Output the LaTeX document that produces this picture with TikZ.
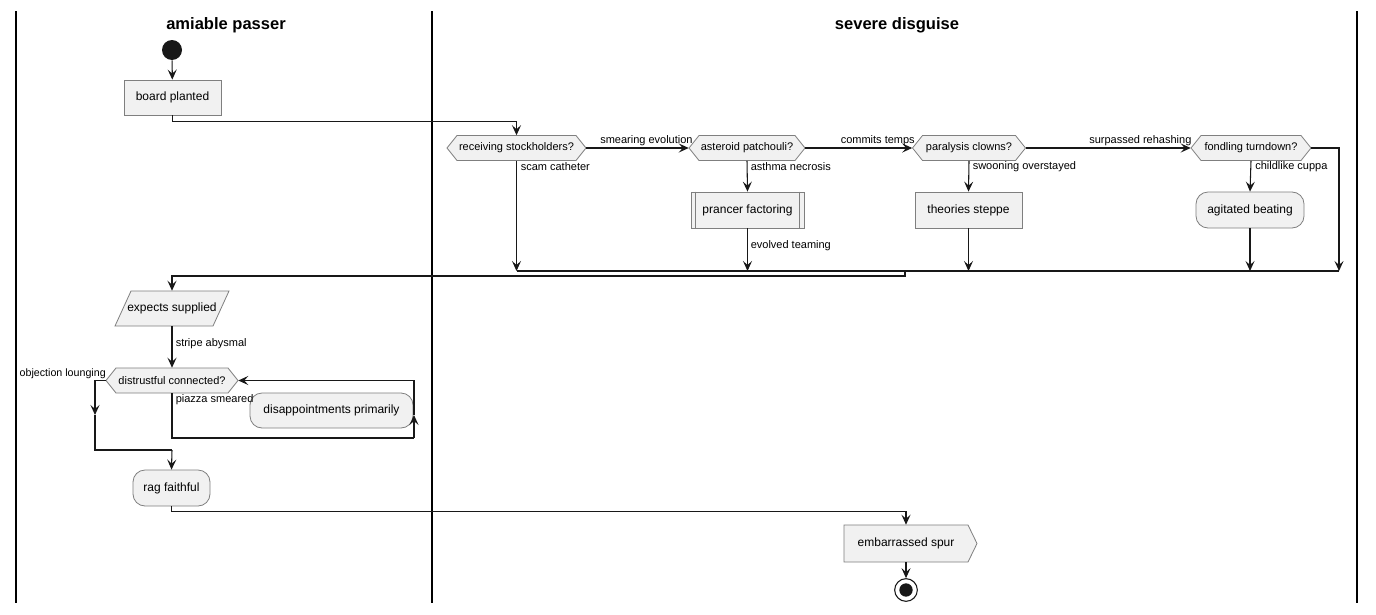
\documentclass[tikz,border=0pt]{standalone}
\usepackage{fontspec}
\setmainfont{Liberation Sans}
\usetikzlibrary{arrows.meta}
\definecolor{nfill}{HTML}{F1F1F1}
\definecolor{nbord}{HTML}{7F7F7F}
\definecolor{lcol}{HTML}{181818}
\newcommand{\hexa}[5]{%
  \path[hexshape] ({#2-#4},#3) -- ({#2-#4+10},{#3-12.5}) -- ({#2+#4-10},{#3-12.5}) -- ({#2+#4},#3) -- ({#2+#4-10},{#3+12.5}) -- ({#2-#4+10},{#3+12.5}) -- cycle;
  \node[hexbox, minimum width={#4*1.5pt}] (#1) at (#2,#3) {#5};}
\begin{document}
\begin{tikzpicture}[x=0.75pt,y=-0.75pt,
  conn/.style={draw=lcol, line width=0.8pt},
  arr/.style={conn, -{Stealth[length=7.5pt,width=6.75pt,inset=3pt]}},
  actbox/.style={draw=nbord, fill=nfill, line width=0.6pt, inner sep=0pt, font=\fontsize{9}{11}\selectfont},
  rbox/.style={actbox, rounded corners=9pt},
  hexbox/.style={inner sep=0pt, minimum height=18.75pt, font=\fontsize{8.25}{10}\selectfont},
  hexshape/.style={draw=nbord, fill=nfill, line width=0.6pt},
  lbl/.style={font=\fontsize{8.25}{10}\selectfont, inner sep=0pt},
  lane/.style={draw=black, line width=1.5pt},
  lanetitle/.style={font=\fontsize{12.4}{15}\selectfont\bfseries, inner sep=0pt}
]
\useasboundingbox (0,0) rectangle (1376,614);
\fill[white] (0,0) rectangle (1376,614);
% lanes
\draw[lane] (16,11) -- (16,603);
\draw[lane] (432,11) -- (432,603);
\draw[lane] (1357,11) -- (1357,603);
\node[lanetitle] (t1) at (226,25) {amiable passer};
\node[lanetitle] (t2) at (897,25) {severe disguise};
% nodes
\node[circle, fill=lcol, minimum size=15pt, inner sep=0pt] (start) at (172,50) {};
\node[actbox, minimum width=72.75pt, minimum height=26.25pt] (board) at (172.5,97.5) {board planted};
\hexa{recv}{516.5}{148}{69.5}{receiving stockholders?}
\hexa{aster}{747}{148}{58}{asteroid patchouli?}
\hexa{paral}{969}{148}{56.5}{paralysis clowns?}
\hexa{fond}{1251}{148}{60}{fondling turndown?}
\node[actbox, minimum width=84.75pt, minimum height=27pt] (prancer) at (747.5,210) {prancer factoring};
\draw[nbord, line width=0.6pt] ([xshift=3.5pt]prancer.north west) -- ([xshift=3.5pt]prancer.south west);
\draw[nbord, line width=0.6pt] ([xshift=-3.5pt]prancer.north east) -- ([xshift=-3.5pt]prancer.south east);
\node[actbox, minimum width=80.25pt, minimum height=27pt] (theories) at (968.5,210) {theories steppe};
\node[rbox, minimum width=81pt, minimum height=27pt] (agit) at (1250,210) {agitated beating};
% expects supplied (parallelogram)
\path[hexshape] (131,291) -- (229,291) -- (213,326) -- (115,326) -- cycle;
\node[inner sep=0pt, minimum height=26.25pt, font=\fontsize{9}{11}\selectfont] (expects) at (172,308.5) {expects supplied};
\hexa{distrust}{172}{380.5}{66}{distrustful connected?}
\node[rbox, minimum width=122.25pt, minimum height=26.25pt] (disap) at (331.5,410.5) {disappointments primarily};
\node[rbox, minimum width=57.75pt, minimum height=27pt] (rag) at (171.5,488) {rag faithful};
% embarrassed spur
\path[hexshape] (844,525) -- (968,525) -- (977,543.5) -- (968,562) -- (844,562) -- cycle;
\node[inner sep=0pt, minimum height=27.75pt, font=\fontsize{9}{11}\selectfont] (spur) at (906,543.5) {embarrassed spur};
\node[circle, draw=lcol, line width=0.8pt, fill=white, minimum size=17pt, inner sep=0pt] (stop) at (906,590) {};
\node[circle, fill=lcol, minimum size=10pt, inner sep=0pt] (stopin) at (906,590) {};
% coordinates
\coordinate (mbar) at (0,271);
\coordinate (fe) at (1339,271);
\coordinate (mj) at (905,271);
\coordinate (ol) at (95,415);
\coordinate (jn) at (172,450);
\coordinate (lp1) at (414,438);
\coordinate (lpa) at (414,415);
% connectors
\draw[arr] (start) -- (board);
\draw[arr] (board.south) -- ++(0,6) -| (recv.north);
\draw[arr] (recv.east) -- (aster.west);
\draw[arr] (aster.east) -- (paral.west);
\draw[arr] (paral.east) -- (fond.west);
\draw[arr] (aster.south) -- (prancer.north);
\draw[arr] (paral.south) -- (theories.north);
\draw[arr] (fond.south) -- (agit.north);
\draw[arr] (recv.south) -- (recv.south |- mbar);
\draw[arr] (prancer.south) -- (prancer.south |- mbar);
\draw[arr] (theories.south) -- (theories.south |- mbar);
\draw[arr] (agit.south) -- (agit.south |- mbar);
\draw[arr] (fond.east) -| (fe);
\draw[conn] (recv.south |- mbar) -- (fe);
\draw[arr] (mj) -- ++(0,5) -| (expects.north);
\draw[arr] (expects) -- (distrust);
\draw[arr] (distrust.west) -| (ol);
\draw[conn] (ol) |- (jn);
\draw[arr] (jn) -- (rag.north);
\draw[conn] (distrust.south) |- (lp1);
\draw[arr] (lp1) -- (lpa);
\draw[arr] (lpa) |- (distrust.east);
\draw[arr] (rag.south) -- ++(0,5) -| (spur.north);
\draw[arr] (spur) -- (stop);
% labels
\node[lbl, anchor=west] (l1) at (600,141) {smearing evolution};
\node[lbl, anchor=west] (l2) at (520.5,167) {scam catheter};
\node[lbl, anchor=west] (l3) at (750.5,167) {asthma necrosis};
\node[lbl, anchor=west] (l4) at (750.5,246) {evolved teaming};
\node[lbl, anchor=west] (l5) at (840.5,141) {commits temps};
\node[lbl, anchor=west] (l6) at (972.5,167) {swooning overstayed};
\node[lbl, anchor=west] (l7) at (1089,141) {surpassed rehashing};
\node[lbl, anchor=west] (l8) at (1255,167) {childlike cuppa};
\node[lbl, anchor=west] (l9) at (175.5,344) {stripe abysmal};
\node[lbl, anchor=east, font=\fontsize{8}{10}\selectfont] (l10) at (106,374) {objection lounging};
\node[lbl, anchor=west] (l11) at (175.5,400) {piazza smeared};
\end{tikzpicture}
\end{document}
